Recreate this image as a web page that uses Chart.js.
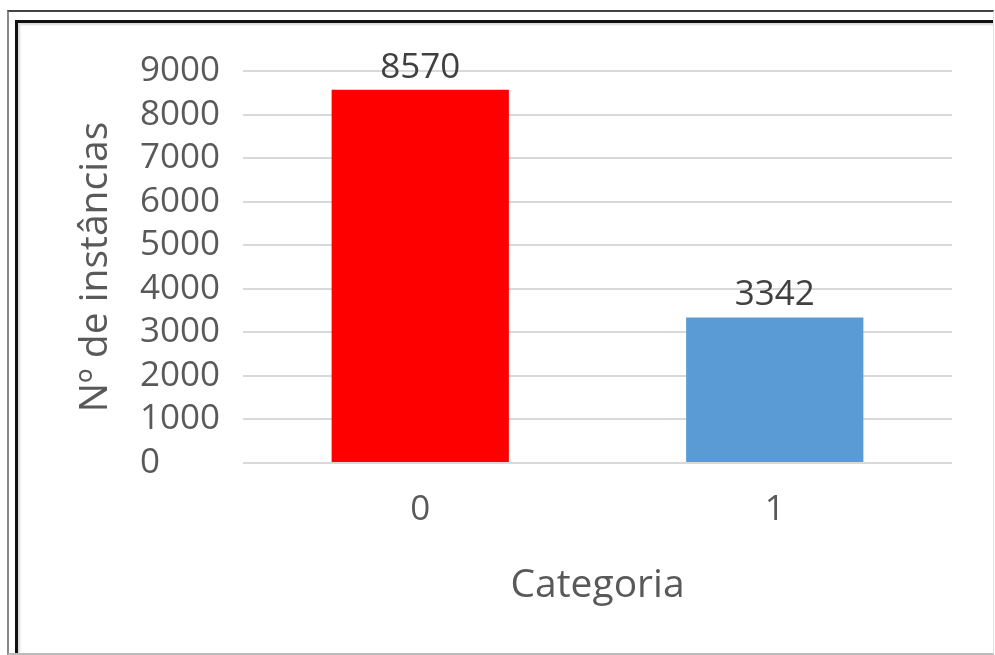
<!DOCTYPE html>
<html>
<head>
<meta charset="utf-8">
<script src="https://cdn.jsdelivr.net/npm/chart.js@4"></script>
<style>
  body { margin: 0; background: #fff; }
  #frame {
    position: absolute; left: 7px; top: 10px; width: 987px; height: 645px;
    box-sizing: border-box;
    border-left: 2px solid #888; border-top: 2px solid #444;
    border-right: 1px solid #e2e2e2; border-bottom: 2px solid #bbb;
  }
  #inner {
    position: absolute; left: 15px; top: 20px; width: 978px; height: 633px;
    box-sizing: border-box;
    border-left: 3px solid #111; border-top: 3px solid #111;
    box-shadow: inset 2px 2px 2px rgba(0,0,0,0.15);
  }
  #chart { position: absolute; left: 0; top: 0; }
</style>
</head>
<body>
<div id="frame"></div>
<div id="inner"></div>
<canvas id="chart" width="995" height="655"></canvas>
<script>
const categories = ['0', '1'];
const counts = [8570, 3342];
const barColors = ['#ff0000', '#5b9bd5'];
const yTicks = [0, 1000, 2000, 3000, 4000, 5000, 6000, 7000, 8000, 9000];

const textColor = '#595959';

// values written above each bar
const valueLabels = {
  id: 'valueLabels',
  afterDatasetsDraw(chart) {
    const ctx = chart.ctx;
    const meta = chart.getDatasetMeta(0);
    ctx.save();
    ctx.font = '35px "Open Sans"';
    ctx.fillStyle = '#404040';
    ctx.textAlign = 'center';
    ctx.textBaseline = 'middle';
    meta.data.forEach((bar, i) => {
      ctx.fillText(String(counts[i]), bar.x, bar.y - 22);
    });
    ctx.restore();
  }
};

const chart = document.getElementById('chart');
new Chart(chart, {
  type: 'bar',
  data: {
    labels: categories,
    datasets: [{
      data: counts,
      backgroundColor: barColors,
      barPercentage: 0.5,
      categoryPercentage: 1.0
    }]
  },
  options: {
    responsive: false,
    animation: false,
    devicePixelRatio: 1,
    layout: { padding: { top: 71, right: 43, left: 140, bottom: 0 } },
    plugins: {
      legend: { display: false },
      tooltip: { enabled: false }
    },
    scales: {
      x: {
        grid: { display: false, drawTicks: false },
        border: { display: false },
        ticks: {
          color: textColor,
          font: { family: 'Open Sans', size: 35 },
          padding: 26
        },
        title: {
          display: true,
          text: 'Categoria',
          color: textColor,
          font: { family: 'Open Sans', size: 39 },
          padding: { top: 4, bottom: 46 }
        },
        afterFit: axis => { axis.height = 192; }
      },
      y: {
        min: 0,
        max: 9000,
        afterBuildTicks: axis => { axis.ticks = yTicks.map(v => ({ value: v })); },
        grid: { color: '#d9d9d9', lineWidth: 2, drawTicks: false },
        border: { display: false },
        ticks: {
          color: textColor,
          autoSkip: false,
          crossAlign: 'far',
          font: { family: 'Open Sans', size: 35 },
          padding: 23,
          callback: value => String(value)
        },
        title: {
          display: true,
          text: 'Nº de instâncias',
          color: textColor,
          font: { family: 'Open Sans', size: 39 },
          // title sits left of the tick labels, outside the axis box
          padding: { top: -68, bottom: 4 }
        },
        afterFit: axis => { axis.width = 103; }
      }
    }
  },
  plugins: [valueLabels]
});
</script>
</body>
</html>
